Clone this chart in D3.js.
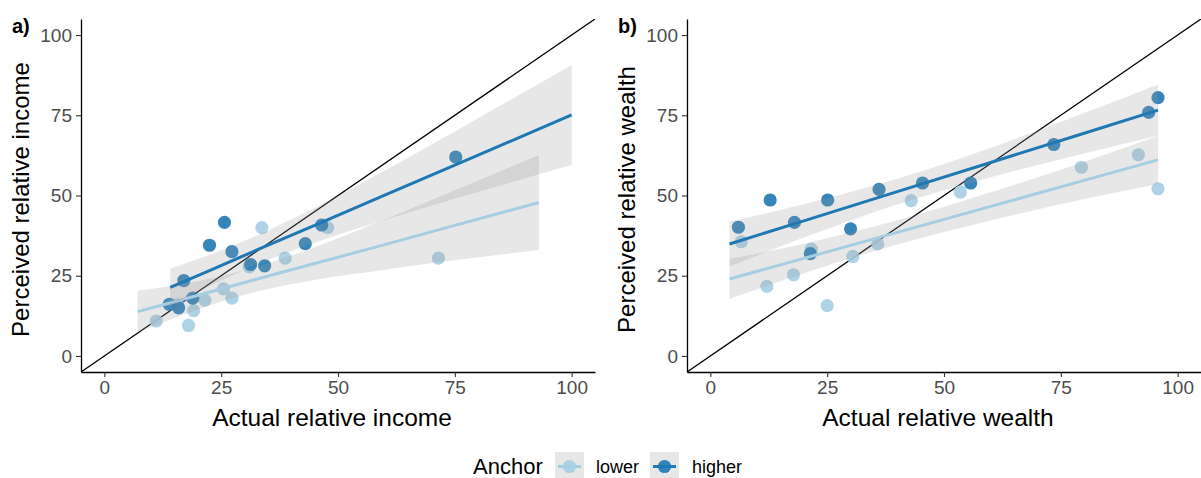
<!DOCTYPE html>
<html>
<head>
<meta charset="utf-8">
<script src="https://cdn.jsdelivr.net/npm/d3@7"></script>
<style>
  body { margin: 0; background: #fff; }
  svg { display: block; font-family: "Liberation Sans", Arial, sans-serif; }
</style>
</head>
<body>
<svg id="chart"></svg>
<script>
const WIDTH = 1201;
const HEIGHT = 478;

const groups = ['lower', 'higher'];
const tickValues = [0, 25, 50, 75, 100];

// a) income
const incomeLowerX = [11.1, 15.7, 18.0, 19.1, 21.5, 25.5, 27.3, 31.0, 33.7, 38.7, 47.8, 71.5];
const incomeLowerY = [10.9, 15.9, 9.5, 14.1, 17.4, 20.9, 18.0, 27.8, 40.0, 30.5, 40.0, 30.5];
const incomeHigherX = [13.9, 15.9, 17.0, 18.9, 22.5, 25.7, 27.3, 31.3, 34.3, 43.0, 46.5, 75.2];
const incomeHigherY = [16.1, 15.0, 23.5, 18.0, 34.5, 41.6, 32.5, 28.5, 28.1, 35.0, 40.8, 62.0];

// fitted lines and CI half-widths
const incomeLowerFitX = [7.1, 15, 30, 45, 60, 75, 93];
const incomeLowerFit = [13.8, 16.9, 22.9, 28.8, 34.7, 40.7, 47.8];
const incomeLowerSE = [6.5, 5.1, 3.8, 5.1, 7.8, 10.9, 14.8];
const incomeHigherFitX = [14.1, 22, 31, 45, 60, 80, 100];
const incomeHigherFit = [21.4, 26.3, 32.0, 40.7, 50.1, 62.6, 75.1];
const incomeHigherSE = [5.8, 4.9, 4.5, 5.4, 7.7, 11.5, 15.6];

// b) wealth
const wealthLowerX = [6.6, 12.1, 17.8, 21.6, 25.0, 30.5, 35.8, 43.0, 53.5, 79.4, 91.6, 95.8];
const wealthLowerY = [35.6, 21.7, 25.3, 33.3, 15.7, 31.0, 34.9, 48.4, 51.1, 58.8, 62.7, 52.1];
const wealthHigherX = [6.0, 12.8, 18.0, 21.4, 25.1, 30.0, 36.1, 45.4, 55.7, 73.5, 93.8, 95.8];
const wealthHigherY = [40.1, 48.6, 41.6, 31.9, 48.6, 39.6, 51.9, 53.9, 53.9, 65.9, 75.9, 80.5];

const wealthLowerFitX = [4.1, 20, 40, 60, 80, 95.8];
const wealthLowerFit = [24.0, 30.4, 38.5, 46.6, 54.7, 61.1];
const wealthLowerSE = [6.2, 4.6, 3.8, 4.4, 5.8, 7.5];
const wealthHigherFitX = [4.1, 20, 40, 60, 80, 95.8];
const wealthHigherFit = [34.9, 42.1, 51.2, 60.3, 69.4, 76.6];
const wealthHigherSE = [7.0, 5.2, 4.0, 4.6, 6.3, 8.0];

const colors = { lower: '#a6cee3', higher: '#1f78b4' };

function zip(xs, ys) { return xs.map((x, i) => ({ x: x, y: ys[i] })); }
function fitRows(xs, fit, se) { return xs.map((x, i) => ({ x: x, fit: fit[i], se: se[i] })); }

const panels = [
  {
    id: 'a', label: 'a)', left: 81, right: 595,
    xTitle: 'Actual relative income', yTitle: 'Perceived relative income',
    points: { lower: zip(incomeLowerX, incomeLowerY), higher: zip(incomeHigherX, incomeHigherY) },
    fits: {
      lower: fitRows(incomeLowerFitX, incomeLowerFit, incomeLowerSE),
      higher: fitRows(incomeHigherFitX, incomeHigherFit, incomeHigherSE)
    }
  },
  {
    id: 'b', label: 'b)', left: 687, right: 1201,
    xTitle: 'Actual relative wealth', yTitle: 'Perceived relative wealth',
    points: { lower: zip(wealthLowerX, wealthLowerY), higher: zip(wealthHigherX, wealthHigherY) },
    fits: {
      lower: fitRows(wealthLowerFitX, wealthLowerFit, wealthLowerSE),
      higher: fitRows(wealthHigherFitX, wealthHigherFit, wealthHigherSE)
    }
  }
];

const TOP = 19, BOTTOM = 372;

const svg = d3.select('#chart').attr('width', WIDTH).attr('height', HEIGHT);

panels.forEach(p => {
  const x = d3.scaleLinear().domain([-5, 105]).range([p.left, p.right]);
  const y = d3.scaleLinear().domain([-5, 105]).range([BOTTOM, TOP]);

  const g = svg.append('g');

  svg.append('clipPath').attr('id', 'clip-' + p.id)
    .append('rect')
    .attr('x', p.left).attr('y', TOP)
    .attr('width', p.right - p.left).attr('height', BOTTOM - TOP);

  const body = g.append('g').attr('clip-path', 'url(#clip-' + p.id + ')');

  // identity line
  body.append('line')
    .attr('x1', x(-5)).attr('y1', y(-5))
    .attr('x2', x(105)).attr('y2', y(105))
    .attr('stroke', '#000').attr('stroke-width', 1.3);

  // points
  groups.forEach(k => {
    body.append('g').selectAll('circle')
      .data(p.points[k]).enter()
      .append('circle')
      .attr('cx', d => x(d.x)).attr('cy', d => y(d.y))
      .attr('r', 6.6)
      .attr('fill', colors[k])
      .attr('fill-opacity', 0.9);
  });

  // smooth: ribbon then line, per group
  const area = d3.area()
    .x(d => x(d.x))
    .y0(d => y(d.fit - d.se))
    .y1(d => y(d.fit + d.se))
    .curve(d3.curveMonotoneX);
  const line = d3.line().x(d => x(d.x)).y(d => y(d.fit));

  groups.forEach(k => {
    body.append('path')
      .datum(p.fits[k])
      .attr('d', area)
      .attr('fill', '#999')
      .attr('fill-opacity', 0.24);
    body.append('path')
      .datum(p.fits[k])
      .attr('d', line)
      .attr('fill', 'none')
      .attr('stroke', colors[k])
      .attr('stroke-width', 3);
  });

  // axes
  const xAxis = g.append('g')
    .attr('transform', 'translate(0,' + BOTTOM + ')')
    .call(d3.axisBottom(x).tickValues(tickValues).tickSize(5).tickSizeOuter(0).tickPadding(4));
  const yAxis = g.append('g')
    .attr('transform', 'translate(' + p.left + ',0)')
    .call(d3.axisLeft(y).tickValues(tickValues).tickSize(5).tickSizeOuter(0).tickPadding(4));

  [xAxis, yAxis].forEach(a => {
    a.select('.domain').attr('stroke', '#000').attr('stroke-width', 1.3);
    a.selectAll('.tick line').attr('stroke', '#333').attr('stroke-width', 1.1);
    a.selectAll('.tick text')
      .attr('fill', '#4d4d4d')
      .style('font-size', '19px')
      .style('font-family', '"Liberation Sans", Arial, sans-serif');
  });

  // axis titles
  g.append('text')
    .attr('x', (p.left + p.right) / 2 - 6)
    .attr('y', 426)
    .attr('text-anchor', 'middle')
    .style('font-size', '24.5px')
    .text(p.xTitle);

  g.append('text')
    .attr('transform', 'translate(' + (p.left - 52) + ',' + ((TOP + BOTTOM) / 2 + 4) + ') rotate(-90)')
    .attr('text-anchor', 'middle')
    .style('font-size', '24px')
    .text(p.yTitle);

  // panel tag
  g.append('text')
    .attr('x', p.left - 69)
    .attr('y', 33)
    .style('font-size', '20px')
    .style('font-weight', 'bold')
    .text(p.label);
});

// legend
const legend = svg.append('g');
legend.append('text')
  .attr('x', 473).attr('y', 474)
  .style('font-size', '22px')
  .text('Anchor');

const legendKeys = [{ key: 'lower', boxX: 555, textX: 596 }, { key: 'higher', boxX: 650, textX: 692 }];
legendKeys.forEach(d => {
  legend.append('rect')
    .attr('x', d.boxX).attr('y', 452)
    .attr('width', 29).attr('height', 29)
    .attr('fill', '#999').attr('fill-opacity', 0.24);
  legend.append('line')
    .attr('x1', d.boxX + 3).attr('x2', d.boxX + 26)
    .attr('y1', 466.5).attr('y2', 466.5)
    .attr('stroke', colors[d.key]).attr('stroke-width', 3);
  legend.append('circle')
    .attr('cx', d.boxX + 14.5).attr('cy', 466.5)
    .attr('r', 6.6)
    .attr('fill', colors[d.key]).attr('fill-opacity', 0.9);
  legend.append('text')
    .attr('x', d.textX).attr('y', 473)
    .style('font-size', '18px')
    .text(d.key);
});
</script>
</body>
</html>
